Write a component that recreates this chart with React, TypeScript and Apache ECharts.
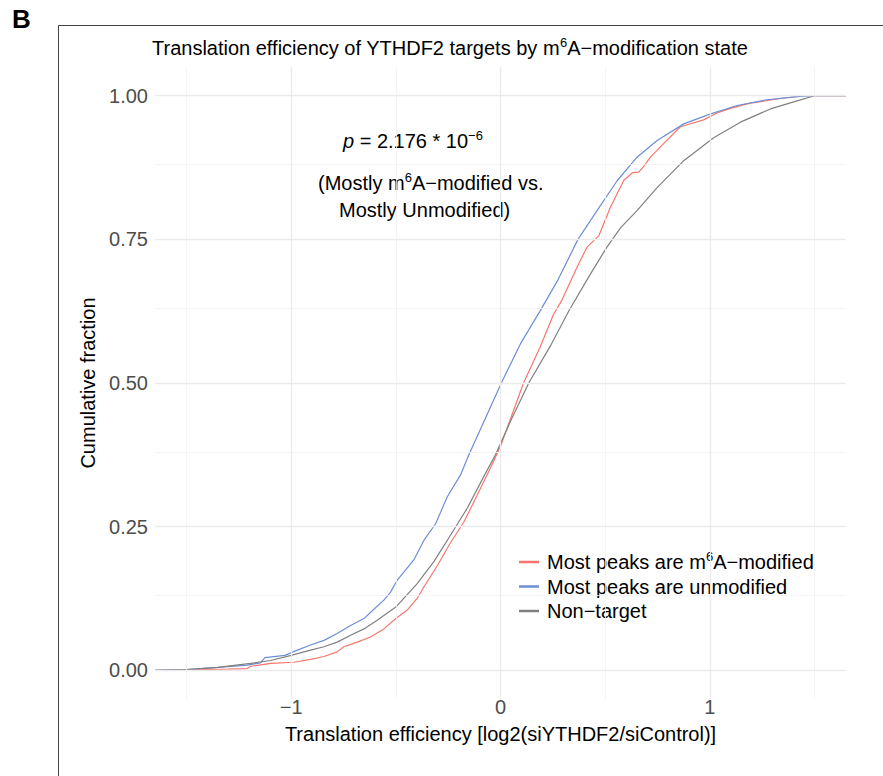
import React, { useEffect, useRef } from 'react';
import * as echarts from 'echarts';

const FONT = '"Liberation Sans", Arial, Helvetica, sans-serif';

// Series names
const seriesNames = [
  'Most peaks are m6A-modified',
  'Most peaks are unmodified',
  'Non-target',
];

// Most peaks are m6A-modified (red)
const modifiedX = [-1.65, -1.5, -1.3, -1.21, -1.193, -1.098, -0.987, -0.907, -0.843, -0.78, -0.748, -0.684, -0.621, -0.557, -0.5, -0.445, -0.398, -0.366, -0.302, -0.239, -0.175, -0.111, -0.048, 0.0, 0.05, 0.11, 0.19, 0.254, 0.29, 0.366, 0.414, 0.469, 0.525, 0.589, 0.63, 0.66, 0.684, 0.716, 0.78, 0.859, 0.97, 1.034, 1.098, 1.193, 1.352, 1.45, 1.65];
const modifiedY = [0, 0.001, 0.002, 0.003, 0.007, 0.012, 0.014, 0.019, 0.024, 0.032, 0.041, 0.049, 0.058, 0.072, 0.09, 0.105, 0.125, 0.145, 0.182, 0.222, 0.258, 0.305, 0.352, 0.39, 0.44, 0.5, 0.563, 0.62, 0.642, 0.702, 0.737, 0.756, 0.806, 0.853, 0.866, 0.867, 0.877, 0.893, 0.917, 0.946, 0.958, 0.97, 0.978, 0.987, 0.996, 1.0, 1.0];

// Most peaks are unmodified (blue)
const unmodifiedX = [-1.65, -1.5, -1.35, -1.21, -1.146, -1.125, -1.03, -0.97, -0.907, -0.843, -0.78, -0.716, -0.652, -0.62, -0.557, -0.525, -0.493, -0.414, -0.366, -0.31, -0.254, -0.191, -0.151, -0.08, 0.004, 0.095, 0.19, 0.275, 0.37, 0.461, 0.557, 0.652, 0.748, 0.875, 1.0, 1.13, 1.273, 1.432, 1.5, 1.65];
const unmodifiedY = [0, 0.001, 0.005, 0.009, 0.013, 0.022, 0.026, 0.035, 0.044, 0.052, 0.064, 0.078, 0.09, 0.101, 0.122, 0.136, 0.157, 0.192, 0.226, 0.255, 0.302, 0.34, 0.375, 0.432, 0.5, 0.568, 0.626, 0.68, 0.75, 0.8, 0.852, 0.893, 0.922, 0.951, 0.968, 0.983, 0.993, 0.999, 1.0, 1.0];

// Non-target (gray)
const nonTargetX = [-1.65, -1.5, -1.35, -1.193, -1.098, -1.0, -0.907, -0.843, -0.78, -0.716, -0.652, -0.589, -0.5, -0.4, -0.318, -0.239, -0.159, -0.08, -0.024, 0.05, 0.135, 0.239, 0.33, 0.43, 0.509, 0.573, 0.652, 0.748, 0.875, 1.018, 1.146, 1.289, 1.416, 1.5, 1.65];
const nonTargetY = [0, 0.001, 0.005, 0.012, 0.017, 0.026, 0.035, 0.041, 0.049, 0.061, 0.072, 0.087, 0.11, 0.15, 0.189, 0.235, 0.282, 0.337, 0.375, 0.435, 0.5, 0.565, 0.628, 0.69, 0.737, 0.77, 0.8, 0.84, 0.887, 0.927, 0.954, 0.977, 0.991, 1.0, 1.0];

// Axis ticks and grid
const xTickLabels = [-1, 0, 1];
const yTickLabels = [0, 0.25, 0.5, 0.75, 1];
const xMajorGrid = [-1, 0, 1];
const xMinorGrid = [-1.5, -0.5, 0.5, 1.5];
const yMajorGrid = [0, 0.25, 0.5, 0.75, 1];
const yMinorGrid = [0.125, 0.375, 0.625, 0.875];

const colors = ['#F8766D', '#6C8FD8', '#808080'];

const zip = (xs: number[], ys: number[]) => xs.map((x, i) => [x, ys[i]]);

export default function App() {
  const ref = useRef<HTMLDivElement>(null);
  useEffect(() => {
    const chart = echarts.init(ref.current!, null, { renderer: 'svg' });
    const major = { color: '#EBEBEB', width: 1.3, type: 'solid' };
    const minor = { color: '#F1F1F1', width: 0.8, type: 'solid' };
    const gridLines = [
      ...xMinorGrid.map((v) => ({ xAxis: v, lineStyle: minor })),
      ...yMinorGrid.map((v) => ({ yAxis: v, lineStyle: minor })),
      ...xMajorGrid.map((v) => ({ xAxis: v, lineStyle: major })),
      ...yMajorGrid.map((v) => ({ yAxis: v, lineStyle: major })),
    ];
    const datasets = [zip(modifiedX, modifiedY), zip(unmodifiedX, unmodifiedY), zip(nonTargetX, nonTargetY)];
    const supRich = {
      a: { fontSize: 20, fontFamily: FONT, color: '#000', lineHeight: 24 },
      s: { fontSize: 13, fontFamily: FONT, color: '#000', verticalAlign: 'top', lineHeight: 24, padding: [0, 0, 6, 0] },
      i: { fontSize: 20, fontFamily: FONT, color: '#000', fontStyle: 'italic', lineHeight: 24 },
    };
    const option: any = {
      animation: false,
      backgroundColor: '#fff',
      textStyle: { fontFamily: FONT },
      grid: { left: 155, right: 37, top: 67, bottom: 77, containLabel: false },
      xAxis: {
        type: 'value',
        min: -1.65,
        max: 1.65,
        axisLine: { show: false },
        axisTick: { show: false },
        splitLine: { show: false },
        axisLabel: {
          customValues: xTickLabels,
          formatter: (v: number) => (v < 0 ? '\u2212' + Math.abs(v) : String(v)),
          color: '#4D4D4D',
          fontSize: 20,
          fontFamily: FONT,
          margin: -2,
        },
        name: 'Translation efficiency [log2(siYTHDF2/siControl)]',
        nameLocation: 'middle',
        nameGap: 25,
        nameTextStyle: { color: '#000', fontSize: 20, fontFamily: FONT },
      },
      yAxis: {
        type: 'value',
        min: -0.05,
        max: 1.05,
        axisLine: { show: false },
        axisTick: { show: false },
        splitLine: { show: false },
        axisLabel: {
          customValues: yTickLabels,
          formatter: (v: number) => v.toFixed(2),
          color: '#4D4D4D',
          fontSize: 20,
          fontFamily: FONT,
          margin: 7,
        },
        name: 'Cumulative fraction',
        nameLocation: 'middle',
        nameGap: 43,
        nameTextStyle: { color: '#000', fontSize: 20, fontFamily: FONT },
      },
      legend: {
        data: seriesNames,
        orient: 'vertical',
        left: 501,
        top: 537,
        padding: [13, 22, 5, 18],
        itemGap: 0.5,
        itemWidth: 20,
        itemHeight: 2.5,
        icon: 'rect',
        backgroundColor: '#fff',
        selectedMode: false,
        textStyle: { fontSize: 20, color: '#000', fontFamily: FONT, lineHeight: 24, padding: [0, 0, 0, 3], rich: supRich },
        formatter: (name: string) =>
          name === seriesNames[0] ? '{a|Most peaks are m}{s|6}{a|A\u2212modified}' : name === 'Non-target' ? '{a|Non\u2212target}' : '{a|' + name + '}',
      },
      graphic: [
        { type: 'polyline', silent: true, shape: { points: [[58.5, 776], [58.5, 25.5], [883, 25.5]] }, style: { stroke: '#444', lineWidth: 1, fill: 'none' } },
        { type: 'text', x: 12, y: 32, silent: true, style: { text: 'B', font: `bold 26px ${FONT}`, fill: '#000', textVerticalAlign: 'bottom' } },
        {
          type: 'text', x: 152, y: 48, silent: true,
          style: { text: '{a|Translation efficiency of YTHDF2 targets by m}{s|6}{a|A\u2212modification state}', rich: supRich, textVerticalAlign: 'middle' },
        },
        {
          type: 'text', x: 343, y: 141, silent: true,
          style: { text: '{i|p}{a| = 2.176 * 10}{s|\u22126}', rich: supRich, textVerticalAlign: 'middle' },
        },
        {
          type: 'text', x: 318, y: 183, silent: true,
          style: { text: '{a|(Mostly m}{s|6}{a|A\u2212modified vs.}', rich: supRich, textVerticalAlign: 'middle' },
        },
        {
          type: 'text', x: 339, y: 210, silent: true,
          style: { text: '{a|Mostly Unmodified)}', rich: supRich, textVerticalAlign: 'middle' },
        },
      ],
      series: [
        {
          type: 'line', name: '__grid', data: [], silent: true, z: 1,
          markLine: { silent: true, symbol: ['none', 'none'], label: { show: false }, emphasis: { disabled: true }, data: gridLines },
        },
        ...datasets.map((d, i) => ({
          type: 'line',
          name: seriesNames[i],
          data: d,
          showSymbol: false,
          symbol: 'none',
          silent: true,
          z: 3,
          color: colors[i],
          lineStyle: { color: colors[i], width: 1.2 },
          emphasis: { disabled: true },
        })),
      ],
    };
    chart.setOption(option);
    return () => chart.dispose();
  }, []);
  return <div ref={ref} style={{ position: 'absolute', left: 0, top: 0, width: 883, height: 776, background: '#fff' }} />;
}
